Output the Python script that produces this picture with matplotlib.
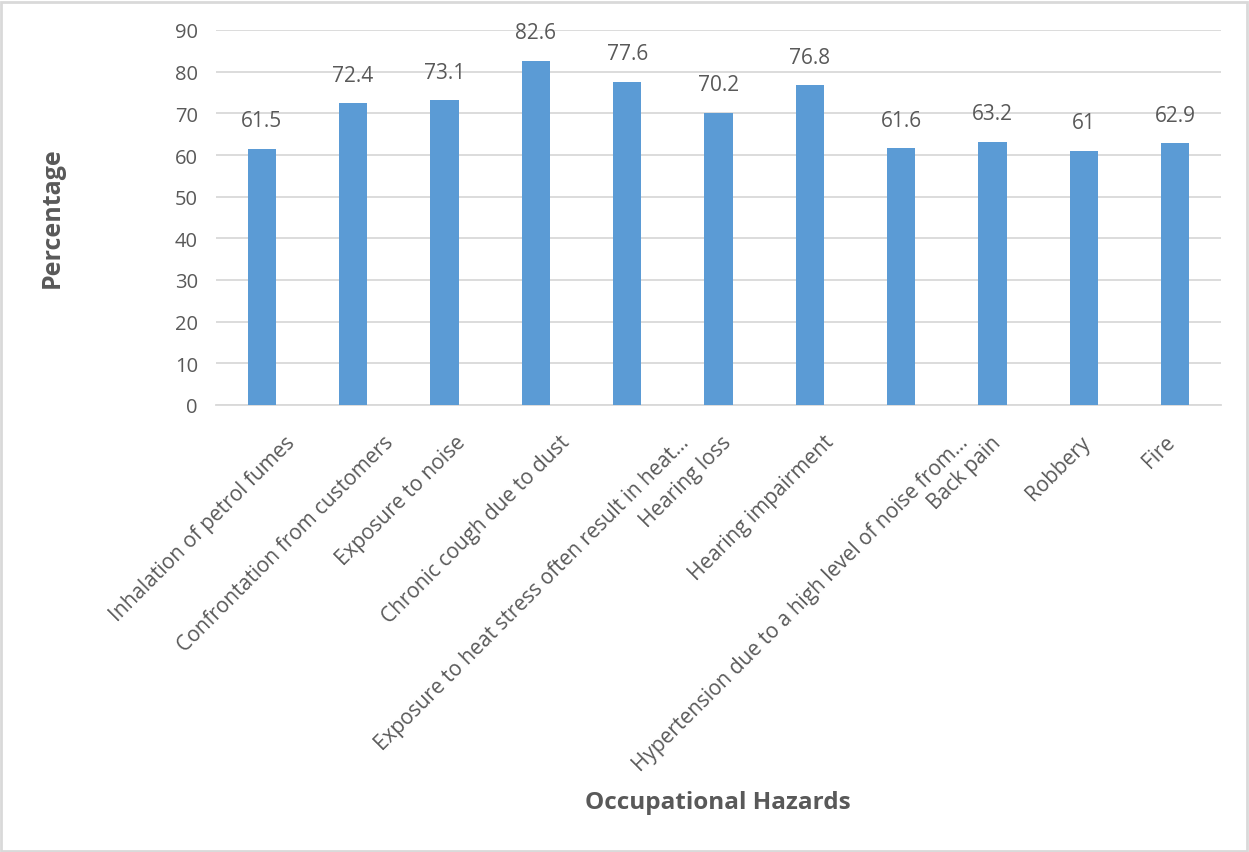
import matplotlib
matplotlib.use("Agg")
import matplotlib.pyplot as plt
from matplotlib.patches import Rectangle
from matplotlib.transforms import ScaledTranslation

# data
hazards = [
    "Inhalation of petrol fumes",
    "Confrontation from customers",
    "Exposure to noise",
    "Chronic cough due to dust",
    "Exposure to heat stress often result in heat\u2026",
    "Hearing loss",
    "Hearing impairment",
    "Hypertension due to a high level of noise from\u2026",
    "Back pain",
    "Robbery",
    "Fire",
]
percentages = [61.5, 72.4, 73.1, 82.6, 77.6, 70.2, 76.8, 61.6, 63.2, 61, 62.9]
y_ticks = [0, 10, 20, 30, 40, 50, 60, 70, 80, 90]

plt.rcParams['font.family'] = ['Open Sans', 'DejaVu Sans']
text_col = '#595959'
bar_col = '#5B9BD5'
grid_col = '#D9D9D9'

fig = plt.figure(figsize=(12.49, 8.53), dpi=100)
ax = fig.add_axes([216 / 1249, 1 - 406 / 853, (1221 - 216) / 1249, (406 - 31) / 853])

x = list(range(len(hazards)))
ax.bar(x, percentages, width=0.31, color=bar_col, zorder=3)

for xi, v in zip(x, percentages):
    ax.annotate(f"{v:g}", (xi, v), xytext=(0, 12.5), textcoords='offset points',
                ha='center', va='bottom', fontsize=15, color=text_col)

ax.set_xlim(-0.5, len(hazards) - 0.5)
ax.set_ylim(0, 90)
ax.set_yticks(y_ticks)
ax.tick_params(axis='y', length=0, pad=13, labelsize=14.5, labelcolor=text_col)
ax.tick_params(axis='x', length=0, pad=19, labelsize=15, labelcolor=text_col)
ax.set_xticks(x)
ax.set_xticklabels(hazards, rotation=45, ha='right', va='top', rotation_mode='anchor')
ax.grid(axis='y', color=grid_col, linewidth=1.3, zorder=0)
for side in ['top', 'right', 'left']:
    ax.spines[side].set_visible(False)
ax.spines['bottom'].set_color(grid_col)
ax.spines['bottom'].set_linewidth(1.3)

# Excel-style placement: longer labels sit further right of their tick
renderer = fig.canvas.get_renderer()
for lab in ax.get_xticklabels():
    w, h, d = renderer.get_text_width_height_descent(lab.get_text(), lab.get_fontproperties(), ismath=False)
    shift = 0.223 * w * 0.707 - 17
    lab.set_transform(lab.get_transform() + ScaledTranslation(shift / 100, 0, fig.dpi_scale_trans))

fig.text(52 / 1249, 1 - 218 / 853, 'Percentage', rotation=90, ha='center', va='center',
         fontsize=18, fontweight='bold', color=text_col)
fig.text(718 / 1249, 1 - 803 / 853, 'Occupational Hazards', ha='center', va='center',
         fontsize=17.5, fontweight='bold', color=text_col)

# light outer frame
fig.patches.append(Rectangle((0.001, 0.001), 0.997, 0.996, transform=fig.transFigure,
                             fill=False, edgecolor='#D9D9D9', linewidth=2))

fig.savefig('out.png', dpi=100)
